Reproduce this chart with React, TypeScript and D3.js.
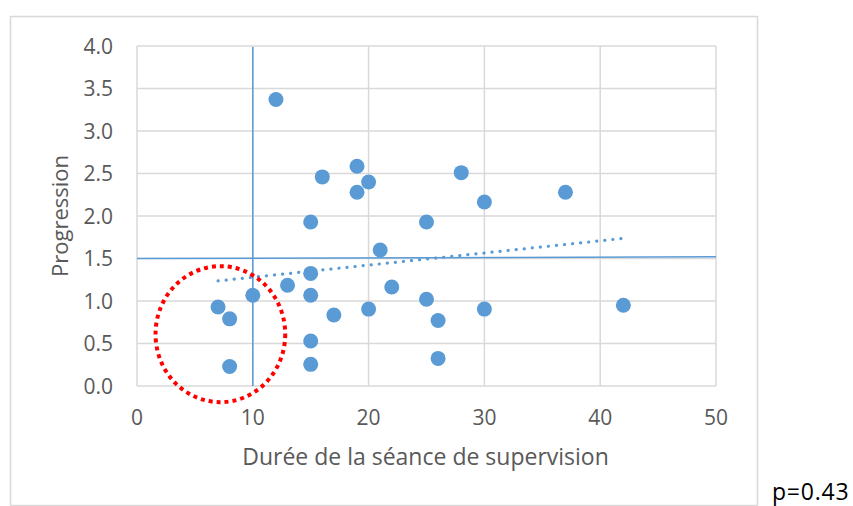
import React from 'react';
import {scaleLinear, line, mean, sum, extent} from 'd3';

// durée de la séance (min) / progression
const duree = [12, 16, 19, 20, 19, 28, 30, 37, 15, 25, 21, 15, 13, 10, 15, 22, 7, 8, 17, 20, 25, 26, 30, 42, 15, 8, 15, 26];
const progression = [3.37, 2.46, 2.585, 2.4, 2.28, 2.51, 2.165, 2.28, 1.93, 1.93, 1.6, 1.325, 1.185, 1.067, 1.067, 1.165, 0.93, 0.79, 0.835, 0.905, 1.02, 0.77, 0.905, 0.95, 0.53, 0.23, 0.255, 0.325];

const xTicks = [0, 10, 20, 30, 40, 50];
const yTicks = [0, 0.5, 1, 1.5, 2, 2.5, 3, 3.5, 4];

// seuils tracés à la main sur le graphique
const seuilX = 10;
const seuilY = [1.5, 1.52];
// zone entourée en rouge (centre x, centre y, rayon x, rayon y en unités)
const zone = [7.2, 0.61, 5.6, 0.8];

const width = 853;
const height = 506;
const margin = {top: 46, right: 137, bottom: 120, left: 137};
const x0 = margin.left;
const x1 = 716;
const y0 = 386;
const y1 = margin.top;

const blue = '#5b9bd5';
const grid = '#d9d9d9';
const textGray = '#595959';
const font = "'Open Sans', sans-serif";

export default function App() {
  const xScale = scaleLinear().domain([0, 50]).range([x0, x1]);
  const yScale = scaleLinear().domain([0, 4]).range([y0, y1]);

  const points = duree.map((d, i) => ({x: d, y: progression[i]}));

  // tendance linéaire (moindres carrés)
  const mx = mean(duree) as number;
  const my = mean(progression) as number;
  const sxy = sum(points, (p) => (p.x - mx) * (p.y - my));
  const sxx = sum(points, (p) => (p.x - mx) ** 2);
  const slope = sxy / sxx;
  const icpt = my - slope * mx;
  const [xmin, xmax] = extent(duree) as [number, number];
  const trend = [xmin, xmax].map((v) => ({x: v, y: icpt + slope * v}));

  const lineGen = line<{x: number; y: number}>()
    .x((d) => xScale(d.x))
    .y((d) => yScale(d.y));

  const cx = xScale(zone[0]);
  const cy = yScale(zone[1]);
  const rx = xScale(zone[0] + zone[2]) - cx;
  const ry = cy - yScale(zone[1] + zone[3]);

  return (
    <svg width={width} height={height} style={{position: 'absolute', left: 0, top: 0, background: 'white'}}>
      <rect x={10.5} y={16.5} width={747} height={489} fill="white" stroke={grid} strokeWidth={1.5} />

      {yTicks.map((t) => (
        <g key={'y' + t}>
          <line x1={x0} x2={x1} y1={yScale(t)} y2={yScale(t)} stroke={grid} strokeWidth={1.5} />
          <text x={113} y={yScale(t)} dy="0.36em" textAnchor="end" fontFamily={font} fontSize={21} fill={textGray}>
            {t.toFixed(1)}
          </text>
        </g>
      ))}
      {xTicks.map((t) => (
        <g key={'x' + t}>
          <line x1={xScale(t)} x2={xScale(t)} y1={y1} y2={y0} stroke={grid} strokeWidth={1.5} />
          <text x={xScale(t)} y={425} textAnchor="middle" fontFamily={font} fontSize={21} fill={textGray}>
            {t}
          </text>
        </g>
      ))}

      <line x1={xScale(seuilX)} x2={xScale(seuilX)} y1={y1 + 1} y2={y0} stroke={blue} strokeWidth={1.5} />
      <line x1={x0} x2={x1} y1={yScale(seuilY[0])} y2={yScale(seuilY[1])} stroke={blue} strokeWidth={1.5} />

      {points.map((p, i) => (
        <circle key={i} cx={xScale(p.x)} cy={yScale(p.y)} r={7.5} fill={blue} />
      ))}

      <path d={lineGen(trend) ?? ''} fill="none" stroke={blue} strokeWidth={3.2} strokeDasharray="0.1 8" strokeLinecap="round" />

      <ellipse cx={cx} cy={cy} rx={rx} ry={ry} fill="none" stroke="#ff0000" strokeWidth={4} strokeDasharray="4 4" />

      <text x={(x0 + x1) / 2 - 1} y={465} textAnchor="middle" fontFamily={font} fontSize={23} fill={textGray}>
        Durée de la séance de supervision
      </text>
      <text transform={`translate(68, ${(y0 + y1) / 2}) rotate(-90)`} textAnchor="middle" fontFamily={font} fontSize={22} fill={textGray}>
        Progression
      </text>

      <text x={772} y={500} fontFamily={font} fontSize={23} letterSpacing={0.8} fill="#000">
        p=0.43
      </text>
    </svg>
  );
}
